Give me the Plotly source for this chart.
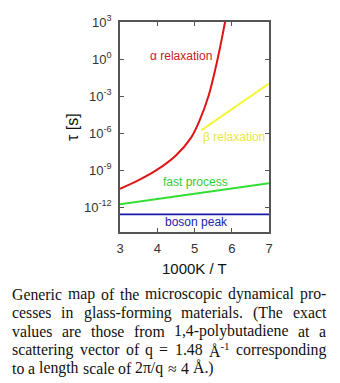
import plotly.graph_objects as go

# Inverse temperature axis (1000K / T)
alpha_x = [3.0, 3.5, 4.0, 4.5, 4.9, 5.14, 5.38, 5.62, 5.72, 5.82, 5.9]
alpha_logtau = [-10.5, -9.8, -8.95, -7.8, -6.4, -4.95, -2.95, 0.0, 1.45, 3.0, 4.3]

beta_x = [5.19, 7.0]
beta_logtau = [-5.75, -1.98]

fast_x = [3.0, 7.0]
fast_logtau = [-11.75, -10.05]

boson_x = [3.0, 7.0]
boson_logtau = [-12.57, -12.57]

y_tick_exp = [3, 0, -3, -6, -9, -12]
x_ticks = [3, 4, 5, 6, 7]

caption_lines = [
    ["Generic", "map", "of", "the", "microscopic", "dynamical", "pro-"],
    ["cesses", "in", "glass-forming", "materials.", "(The", "exact"],
    ["values", "are", "those", "from", "1,4-polybutadiene", "at", "a"],
    ["scattering", "vector", "of", "q", "=", "1.48", "Å<sup>-1</sup>", "corresponding"],
    ["to", "a", "length", "scale", "of", "2π/q", "≈", "4", "Å.)"],
]

W, H = 340, 383
L, R, T, B = 120, 269, 22, 232  # plot area in pixels


def px_x(p):
    return (p - L) / (R - L)


def px_y(p):
    return (B - p) / (B - T)


fig = go.Figure()

series = [
    (alpha_x, alpha_logtau, "#dd1515", 2.0, "spline"),
    (beta_x, beta_logtau, "#f5f53a", 2.0, "linear"),
    (fast_x, fast_logtau, "#33dd33", 2.0, "linear"),
    (boson_x, boson_logtau, "#1a1aa8", 1.6, "linear"),
]
for xs, ys, col, lw, shape in series:
    fig.add_trace(go.Scatter(
        x=xs, y=[10.0 ** v for v in ys], mode="lines",
        line=dict(color=col, width=lw, shape=shape, smoothing=1.0),
        showlegend=False, hoverinfo="skip",
    ))

axis_common = dict(
    showline=True, linecolor="#555555", linewidth=1.5, mirror="ticks",
    ticks="inside", ticklen=4, tickwidth=1.2, tickcolor="#555555",
    showgrid=False, zeroline=False, ticklabelstandoff=4,
    tickfont=dict(family="Liberation Sans, Arial", size=13, color="#333333"),
)

fig.update_xaxes(range=[3, 7], tickvals=x_ticks, **axis_common)
fig.update_yaxes(
    type="log", range=[-14, 3],
    tickvals=[10.0 ** e for e in y_tick_exp],
    ticktext=[f"10<sup>{e}</sup>" for e in y_tick_exp],
    **axis_common,
)

ann = []
sans = "Liberation Sans, Arial"
# Curve labels
for text, cx, cy, col in [
    ("α relaxation", 181, 55.5, "#cc2020"),
    ("β relaxation", 234, 136.5, "#e8e840"),
    ("fast process", 195.5, 181.5, "#33cc33"),
    ("boson peak", 196, 221.5, "#2222aa"),
]:
    ann.append(dict(x=px_x(cx), y=px_y(cy), xref="paper", yref="paper",
                    text=text, showarrow=False, xanchor="center", yanchor="middle",
                    font=dict(family=sans, size=12, color=col)))

# Axis titles
ann.append(dict(x=px_x(194.5), y=px_y(268), xref="paper", yref="paper",
                text="1000K / T", showarrow=False, xanchor="center", yanchor="middle",
                font=dict(family=sans, size=15, color="#111111")))
ann.append(dict(x=px_x(72), y=px_y(127), xref="paper", yref="paper",
                text="τ [s]", showarrow=False, xanchor="center", yanchor="middle",
                textangle=-90, font=dict(family=sans, size=16, color="#111111")))

# Caption, set justified word by word using Times advance widths
TW = {" ": 250, "(": 333, ")": 333, ",": 250, "-": 333, ".": 250, "/": 278,
      "=": 564, "≈": 549, "π": 549, "A": 722, "G": 722, "T": 611, "Å": 722,
      "a": 444, "b": 500, "c": 444, "d": 500, "e": 444, "f": 333, "g": 500,
      "h": 500, "i": 278, "k": 500, "l": 278, "m": 778, "n": 500, "o": 500,
      "p": 500, "q": 500, "r": 333, "s": 389, "t": 278, "u": 500, "v": 500,
      "x": 500, "y": 500, "z": 444}
cap_size = 15.8
cap_left, cap_right = 11, 325
cap_y = [294, 312.5, 331, 349.5, 368]


def word_width(w):
    total = 0.0
    sup = False
    i = 0
    while i < len(w):
        if w.startswith("<sup>", i):
            sup = True
            i += 5
            continue
        if w.startswith("</sup>", i):
            sup = False
            i += 6
            continue
        total += TW.get(w[i], 500) * (0.7 if sup else 1.0)
        i += 1
    return total * cap_size / 1000.0


for li, words in enumerate(caption_lines):
    widths = [word_width(w) for w in words]
    if li < len(caption_lines) - 1:
        gap = (cap_right - cap_left - sum(widths)) / (len(words) - 1)
    else:
        gap = TW[" "] * cap_size / 1000.0
    xpos = cap_left
    for w, wd in zip(words, widths):
        ann.append(dict(x=px_x(xpos), y=px_y(cap_y[li]), xref="paper", yref="paper",
                        text=w, showarrow=False, xanchor="left", yanchor="middle",
                        borderpad=0,
                        font=dict(family="Liberation Serif, Times New Roman",
                                  size=cap_size, color="#111111")))
        xpos += wd + gap

fig.update_layout(
    width=W, height=H,
    margin=dict(l=L, r=W - R, t=T, b=H - B),
    paper_bgcolor="white", plot_bgcolor="white",
    annotations=ann,
)

fig.write_html("out.html")
